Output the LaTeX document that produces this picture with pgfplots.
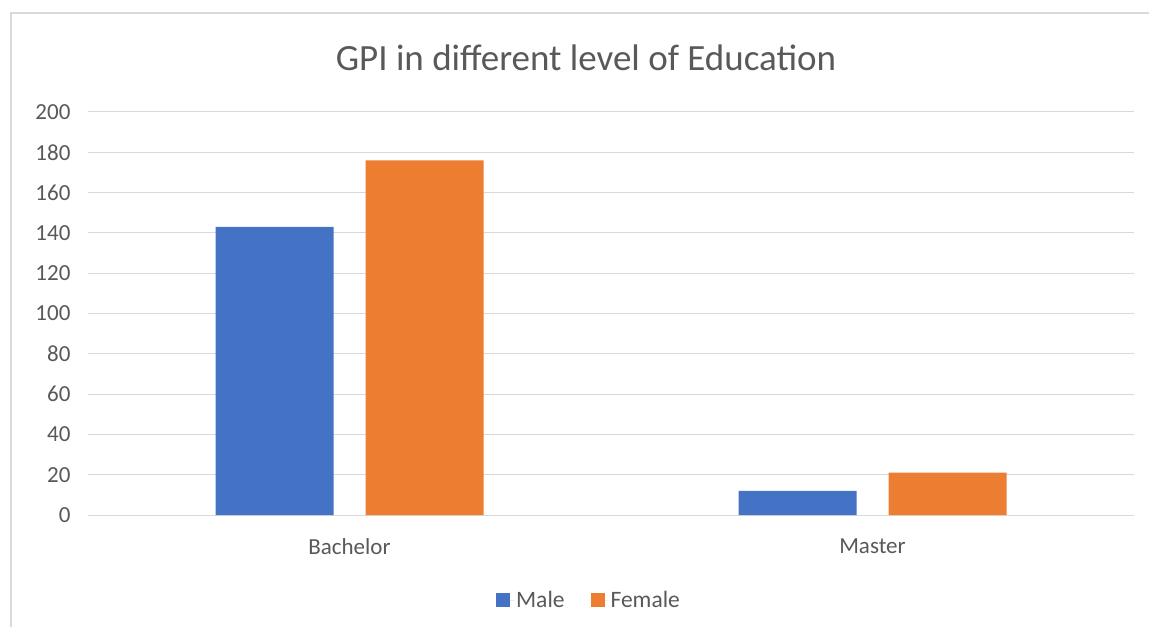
\documentclass[border=0pt]{standalone}
\usepackage{fontspec}
\setmainfont{Carlito}
\usepackage{pgfplots}
\pgfplotsset{compat=1.18}

\definecolor{maleblue}{HTML}{4472C4}
\definecolor{femaleorange}{HTML}{ED7D31}
\definecolor{gridgray}{HTML}{D9D9D9}
\definecolor{textgray}{HTML}{595959}
\definecolor{framegray}{HTML}{D9D9D9}

\begin{document}
\begin{tikzpicture}[x=1pt,y=1pt]
\useasboundingbox (0,0) rectangle (1149,627);
% chart frame (only left and top visible in the reference)
\draw[framegray, line width=1.2pt] (11,0) -- (11,614) -- (1149,614);
% title
\node[text=textgray, font=\fontsize{37}{44}\selectfont] at (586,569) {GPI in different level of Education};

\begin{axis}[
    at={(349.5pt,112pt)}, anchor=origin,
    scale only axis,
    width=1046pt, height=403pt,
    ymin=0, ymax=200,
    ytick={0,20,...,200},
    xmin=-0.5, xmax=1.5,
    xtick=data,
    xticklabels={Bachelor,Master},
    ybar=32pt, bar width=118pt,
    axis line style={draw=none},
    tick style={draw=none},
    ymajorgrids,
    grid style={gridgray, line width=1pt},
    ticklabel style={text=textgray, font=\fontsize{23}{28}\selectfont},
    yticklabel style={xshift=-14pt},
    xticklabel style={yshift=-16pt},
    /pgf/number format/assume math mode=true,
    legend columns=2,
    legend style={at={(0.5,0)}, anchor=center, yshift=-85pt, xshift=-22pt, draw=none,
        font=\fontsize{23.5}{28}\selectfont, text=textgray,
        /tikz/every even column/.append style={column sep=24pt}},
    legend image code/.code={\fill[#1] (0pt,-7pt) rectangle (14pt,7pt);
        \path (0pt,0pt) -- (18pt,0pt);},
]
\addplot[fill=maleblue, draw=none] coordinates {(0,143) (1,12)};
\addlegendentry{Male}
\addplot[fill=femaleorange, draw=none] coordinates {(0,176) (1,21)};
\addlegendentry{Female}
\end{axis}
\end{tikzpicture}
\end{document}
